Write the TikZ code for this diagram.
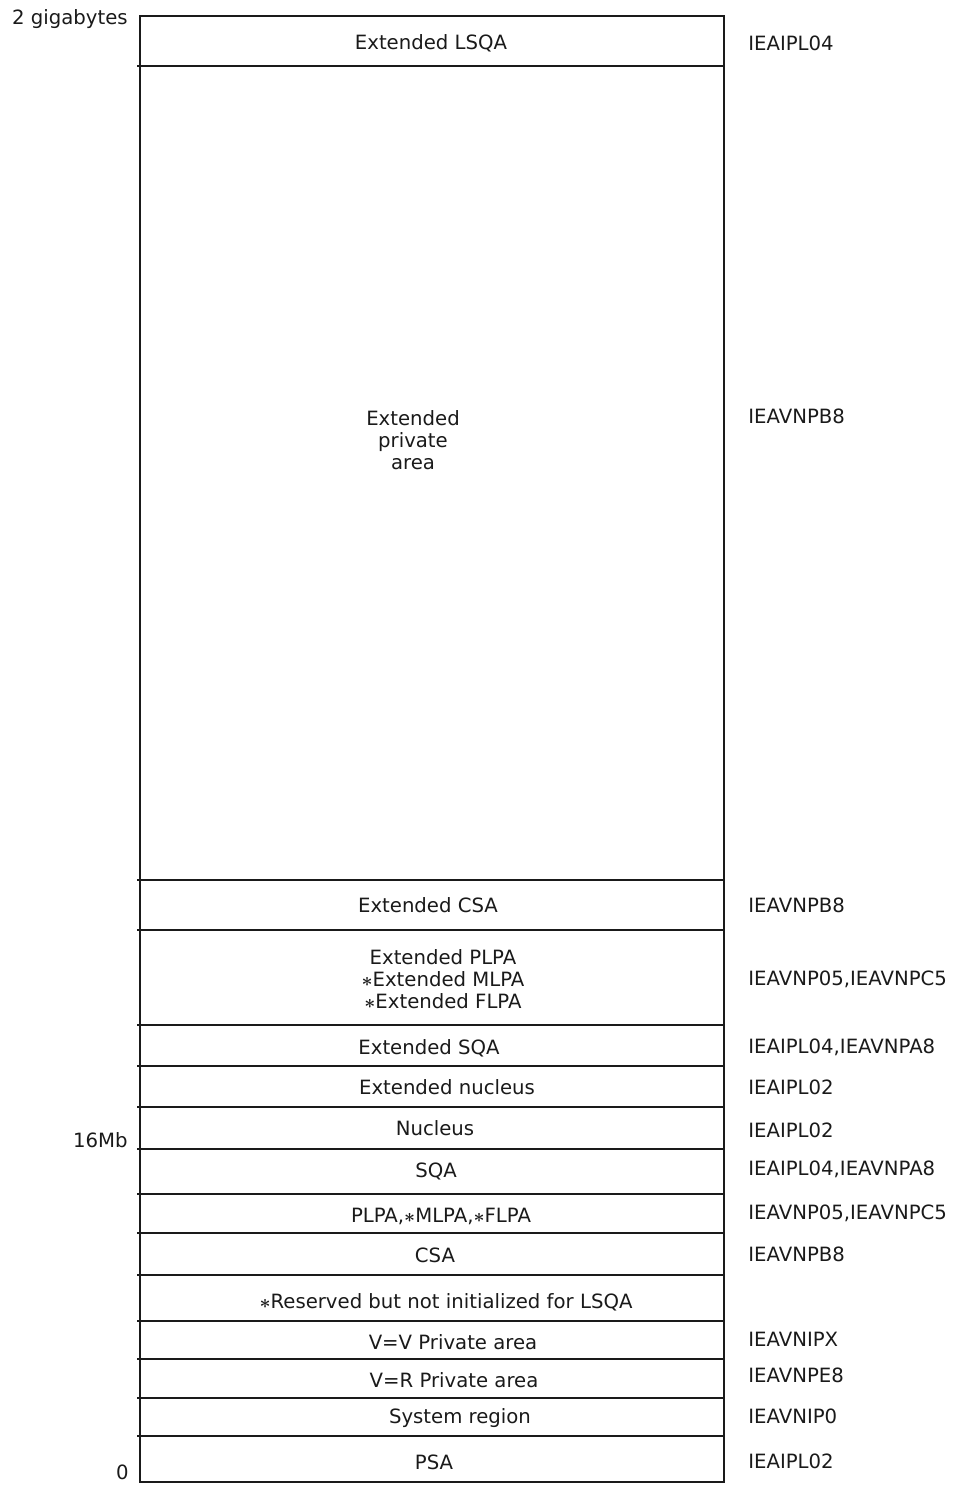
\documentclass[tikz,border=0pt]{standalone}
\usepackage{fontspec}
\setmainfont{DejaVu Sans}
\usepackage{xcolor}
\definecolor{inkcol}{HTML}{1A1A1A}

\begin{document}
\begin{tikzpicture}[x=0.2mm, y=-0.2mm,
  area/.style={font=\fontsize{11.2}{12.6}\selectfont, inkcol, align=center, inner sep=0pt},
  modname/.style={font=\fontsize{11.2}{12.6}\selectfont, inkcol, anchor=west, inner sep=0pt},
  addr/.style={font=\fontsize{11.2}{12.6}\selectfont, inkcol, anchor=east, inner sep=0pt},
  divider/.style={line width=0.7pt, inkcol}]
\useasboundingbox (0,0) rectangle (953,1485);

% Storage column
\draw[divider] (140,16) rectangle (724,1482);
\foreach \y in {66, 880, 930, 1025, 1066, 1107, 1149, 1194, 1233, 1275, 1321, 1359, 1398, 1436} {
  \draw[divider] (137,\y) -- (724,\y);
}

% Addresses
\node[addr] (top) at (128,19) {2 gigabytes};
\node[addr] (mid) at (128,1140) {16Mb};
\node[addr] (bot) at (129,1472) {0};

% Areas
\node[area] (elsqa) at (431,43) {Extended LSQA};
\node[area] (epriv) at (413,440) {Extended\\private\\area};
\node[area] (ecsa) at (428,905) {Extended CSA};
\node[area] (eplpa) at (443,979) {Extended PLPA\\{\boldmath$\ast$}Extended MLPA\\{\boldmath$\ast$}Extended FLPA};
\node[area] (esqa) at (429,1048) {Extended SQA};
\node[area] (enuc) at (447,1087) {Extended nucleus};
\node[area] (nuc) at (435,1128) {Nucleus};
\node[area] (sqa) at (436,1171) {SQA};
\node[area] (plpa) at (441,1216) {PLPA,{\boldmath$\ast$}MLPA,{\boldmath$\ast$}FLPA};
\node[area] (csa) at (435,1255) {CSA};
\node[area] (rsvd) at (446,1302) {{\boldmath$\ast$}Reserved but not initialized for LSQA};
\node[area] (vvpriv) at (453,1342) {V=V Private area};
\node[area] (vrpriv) at (454,1380) {V=R Private area};
\node[area] (sysreg) at (460,1418) {System region};
\node[area] (psa) at (434,1462) {PSA};

% Initializing modules
\foreach \y/\txt [count=\i] in {43/IEAIPL04, 416/IEAVNPB8, 905/IEAVNPB8,
    979/{IEAVNP05,IEAVNPC5}, 1047/{IEAIPL04,IEAVNPA8}, 1087/IEAIPL02,
    1130/IEAIPL02, 1169/{IEAIPL04,IEAVNPA8}, 1213/{IEAVNP05,IEAVNPC5},
    1254/IEAVNPB8, 1339/IEAVNIPX, 1375/IEAVNPE8, 1416/IEAVNIP0, 1461/IEAIPL02} {
  \node[modname] (mod\i) at (748,\y) {\txt};
}
\end{tikzpicture}
\end{document}
